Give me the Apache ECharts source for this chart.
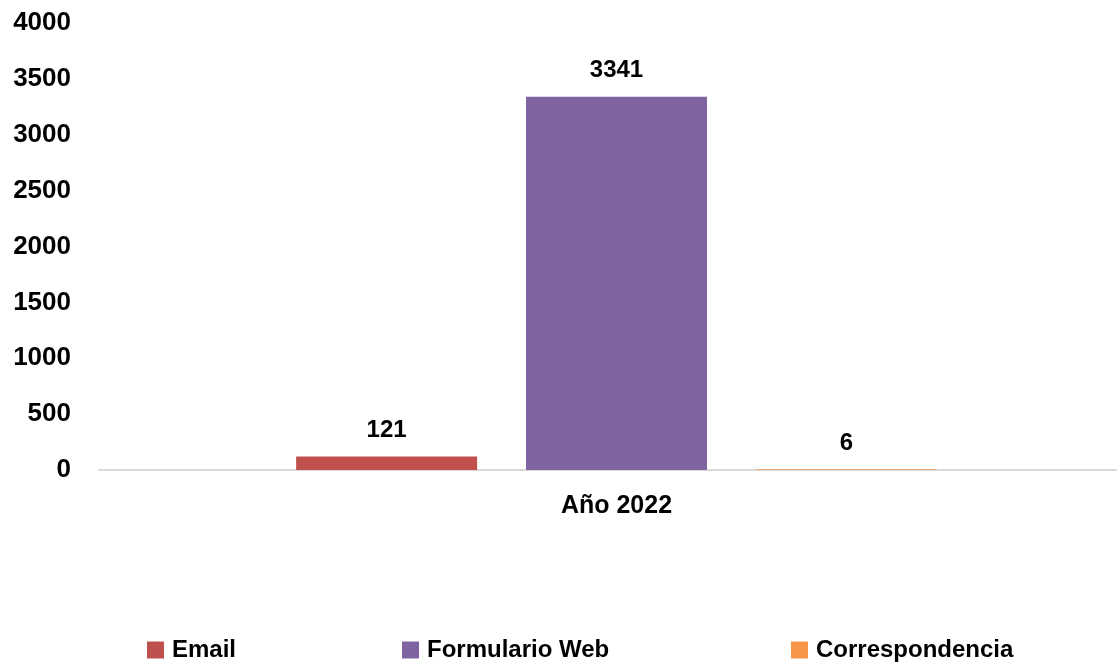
<!DOCTYPE html>
<html>
<head>
<meta charset="utf-8">
<script src="https://cdn.jsdelivr.net/npm/echarts@6/dist/echarts.min.js"></script>
<style>html,body{margin:0;padding:0;background:#fff}#c{width:1117px;height:662px}</style>
</head>
<body>
<div id="c"></div>
<script>
const categories = ["Año 2022"];
const seriesNames = ["Email", "Formulario Web", "Correspondencia"];
const emailValues = [121];
const webValues = [3341];
const corrValues = [6];
const colors = ["#C0504D", "#8064A2", "#F79646"];

const font = "'Liberation Sans', Arial, sans-serif";
const chart = echarts.init(document.getElementById('c'));
const valueSets = [emailValues, webValues, corrValues];
const legendLefts = [142, 397, 786];
chart.setOption({
  animation: false,
  grid: [
    { left: 116, top: 23, width: 1001, height: 447, containLabel: false },
    { left: 99, top: 23, right: 0, height: 447, containLabel: false }
  ],
  legend: seriesNames.map((n, i) => ({
    data: [n],
    left: legendLefts[i], top: 633,
    itemWidth: 17, itemHeight: 17,
    icon: 'rect',
    textStyle: { fontFamily: font, fontWeight: 'bold', fontSize: 24, color: '#000', padding: [0, 0, 0, 3] }
  })),
  xAxis: [{
    type: 'category', data: categories, gridIndex: 0,
    axisLine: { show: false },
    axisTick: { show: false },
    axisLabel: { fontFamily: font, fontWeight: 'bold', fontSize: 25, color: '#000', margin: 24 }
  }, {
    type: 'category', data: categories, gridIndex: 1,
    axisLine: { lineStyle: { color: '#D9D9D9', width: 2 } },
    axisTick: { show: false }, axisLabel: { show: false }
  }],
  yAxis: [{
    type: 'value', min: 0, max: 4000, interval: 500, gridIndex: 0,
    axisLine: { show: false }, axisTick: { show: false },
    splitLine: { show: false },
    axisLabel: { fontFamily: font, fontWeight: 'bold', fontSize: 26, color: '#000', margin: 45,
      formatter: v => String(v) }
  }, {
    type: 'value', min: 0, max: 4000, interval: 500, gridIndex: 1, show: false,
    splitLine: { show: false }
  }],
  series: seriesNames.map((n, i) => ({
    name: n, type: 'bar', data: valueSets[i], z: 3,
    barWidth: 181, barGap: '27%',
    itemStyle: { color: colors[i] },
    label: { show: true, position: 'top', distance: 14, fontFamily: font, fontWeight: 'bold', fontSize: 24, color: '#000' }
  }))
});
</script>
</body>
</html>
